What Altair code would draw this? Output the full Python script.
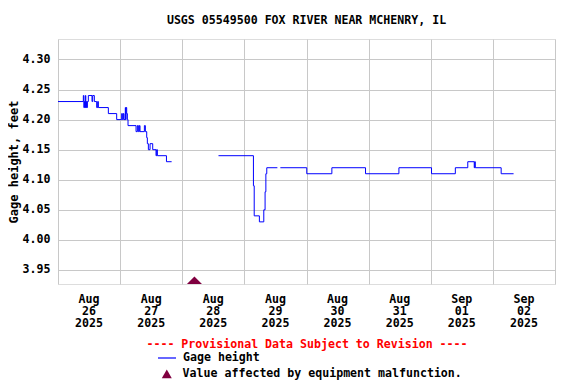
import altair as alt
import pandas as pd

# Time axis: hours since 2025-08-26 00:00 (local)
# Segment 1
seg1_hours = [0.0, 9.79, 10.0, 10.18, 10.4, 10.56, 10.75, 10.95, 11.15, 11.34, 11.72, 13.14, 13.4,
              14.04, 14.94, 15.33, 15.59, 19.45, 22.67, 24.6, 24.86, 25.25, 25.5, 26.0, 26.15,
              26.28, 26.54, 26.8, 27.05, 30.15, 30.66, 31.05, 31.43, 31.69, 33.37, 33.75, 34.27,
              34.52, 34.91, 35.56, 36.59, 37.87, 38.13, 38.39, 41.9, 43.9]
seg1_values = [4.23, 4.24, 4.22, 4.23, 4.22, 4.24, 4.22, 4.23, 4.22, 4.23, 4.24, 4.23, 4.24,
               4.23, 4.22, 4.23, 4.22, 4.21, 4.20, 4.21, 4.20, 4.21, 4.20, 4.22, 4.20,
               4.22, 4.21, 4.20, 4.19, 4.18, 4.19, 4.18, 4.19, 4.18, 4.19, 4.18, 4.17,
               4.16, 4.15, 4.16, 4.15, 4.14, 4.15, 4.14, 4.13, 4.13]
# Segment 2
seg2_hours = [62.0, 75.5, 75.8, 77.8, 79.5, 80.0, 80.3, 80.65, 84.75]
seg2_values = [4.14, 4.09, 4.04, 4.03, 4.05, 4.08, 4.11, 4.12, 4.12]
# Segment 3
seg3_hours = [85.9, 96.1, 105.8, 118.8, 131.7, 144.3, 153.5, 158.3, 160.8, 161.0, 161.2,
              171.2, 176.0]
seg3_values = [4.12, 4.11, 4.12, 4.11, 4.12, 4.11, 4.12, 4.13, 4.12, 4.13, 4.12,
               4.11, 4.11]

# Equipment malfunction flag (plotted at bottom of chart)
flag_hours = [52.7]
flag_values = [3.9267]

tick_hours = [12, 36, 60, 84, 108, 132, 156, 180]
tick_labels = ["Aug\n26\n2025", "Aug\n27\n2025", "Aug\n28\n2025", "Aug\n29\n2025",
               "Aug\n30\n2025", "Aug\n31\n2025", "Sep\n01\n2025", "Sep\n02\n2025"]
grid_hours = list(range(0, 193, 24))
y_ticks = [3.95, 4.00, 4.05, 4.10, 4.15, 4.20, 4.25, 4.30]

SERIES = "Gage height"
FLAG = "Value affected by equipment malfunction."

rows = []
for sid, (hs, vs) in enumerate([(seg1_hours, seg1_values), (seg2_hours, seg2_values),
                                (seg3_hours, seg3_values)]):
    for h, v in zip(hs, vs):
        rows.append({"hours": h, "value": v, "seg": sid, "series": SERIES})
line_df = pd.DataFrame(rows)
flag_df = pd.DataFrame({"hours": flag_hours, "value": flag_values, "flag": [FLAG] * len(flag_hours)})
tick_df = pd.DataFrame({"hours": tick_hours, "label": tick_labels})

FONT = "DejaVu Sans Mono"
FS = 11.6

x_enc = alt.X(
    "hours:Q",
    scale=alt.Scale(domain=[0, 192], nice=False, zero=False),
    axis=alt.Axis(
        values=grid_hours,
        tickCount=len(grid_hours),
        grid=True,
        gridColor="#c8c8c8",
        gridWidth=1,
        ticks=False,
        labels=False,
        domain=False,
        title="---- Provisional Data Subject to Revision ----",
        titleFont=FONT,
        titleFontSize=FS,
        titleFontWeight="bold",
        titleColor="#ff0000",
        titlePadding=54,
    ),
)
y_enc = alt.Y(
    "value:Q",
    scale=alt.Scale(domain=[3.9267, 4.334], nice=False, zero=False),
    axis=alt.Axis(
        values=y_ticks,
        tickCount=len(y_ticks),
        format=".2f",
        grid=True,
        gridColor="#c8c8c8",
        gridWidth=1,
        ticks=False,
        tickSize=0,
        domain=False,
        labelOverlap=False,
        labelFont=FONT,
        labelFontSize=FS,
        labelFontWeight="bold",
        labelColor="black",
        labelPadding=8,
        title="Gage height, feet",
        titleFont=FONT,
        titleFontSize=12,
        titleFontWeight="bold",
        titleColor="black",
        titlePadding=2,
    ),
)

line = alt.Chart(line_df).mark_line(interpolate="step-after", strokeWidth=1).encode(
    x=x_enc,
    y=y_enc,
    detail="seg:N",
    color=alt.Color(
        "series:N",
        scale=alt.Scale(domain=[SERIES], range=["#0000ff"]),
        legend=alt.Legend(
            orient="none", legendX=99, legendY=309, title=None, padding=0,
            symbolSize=324, symbolStrokeColor="#0000ff", symbolStrokeWidth=1.2,
            labelFont=FONT, labelFontSize=FS, labelFontWeight="bold", labelColor="black",
            labelOffset=6, labelLimit=0,
        ),
    ),
)

flag = alt.Chart(flag_df).mark_point(
    shape="M-1,0L0,-1L1,0Z", filled=True, size=225, opacity=1, strokeWidth=0
).encode(
    x="hours:Q",
    y="value:Q",
    fill=alt.Fill(
        "flag:N",
        scale=alt.Scale(domain=[FLAG], range=["#800040"]),
        legend=alt.Legend(
            orient="none", legendX=103, legendY=329, title=None, padding=0,
            symbolType="triangle-up", symbolSize=100, symbolOpacity=1, symbolStrokeWidth=0,
            labelFont=FONT, labelFontSize=FS, labelFontWeight="bold", labelColor="black",
            labelOffset=10, labelLimit=0,
        ),
    ),
)

ticks = alt.Chart(tick_df).mark_text(
    lineBreak="\n", baseline="top", align="center", font=FONT, fontSize=FS,
    fontWeight="bold", lineHeight=12, color="black",
).encode(
    x="hours:Q",
    y=alt.value(255),
    text="label:N",
)

chart = alt.layer(line, flag, ticks).resolve_scale(color="independent", fill="independent").properties(
    width=497,
    height=245,
    autosize="none",
    padding={"left": 50, "top": 31, "right": 13, "bottom": 100},
    title=alt.Title(
        "USGS 05549500 FOX RIVER NEAR MCHENRY, IL",
        font=FONT, fontSize=FS, fontWeight="bold", color="black",
        anchor="middle", frame="group", offset=12,
    ),
).configure_view(stroke="black", strokeWidth=1).configure(background="white")

chart.save("out.html", embed_options={"renderer": "svg", "actions": False})
